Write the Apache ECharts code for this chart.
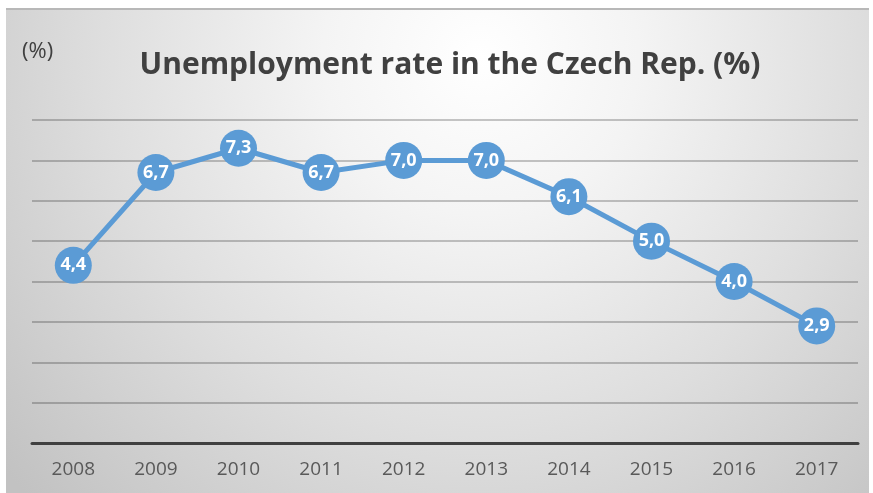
<!DOCTYPE html>
<html>
<head>
<meta charset="utf-8">
<script src="https://cdn.jsdelivr.net/npm/echarts@6/dist/echarts.min.js"></script>
<style>
html,body{margin:0;padding:0;background:#fff;}
#c{width:873px;height:493px;}
</style>
</head>
<body>
<div id="c"></div>
<script>
const years = ['2008','2009','2010','2011','2012','2013','2014','2015','2016','2017'];
const rates = [4.4, 6.7, 7.3, 6.7, 7.0, 7.0, 6.1, 5.0, 4.0, 2.9];
const titleText = 'Unemployment rate in the Czech Rep. (%)';
const unitText = '(%)';

const chart = echarts.init(document.getElementById('c'));
chart.setOption({
  backgroundColor: '#ffffff',
  animation: false,
  graphic: [
    {
      type: 'rect', z: -10, silent: true,
      shape: {x: 6, y: 8, width: 863, height: 485},
      style: {
        fill: new echarts.graphic.RadialGradient(0.55, 0.1, 1.3, [
          {offset: 0, color: '#ffffff'},
          {offset: 0.25, color: '#f4f4f4'},
          {offset: 0.6, color: '#dedede'},
          {offset: 1, color: '#c2c2c2'}
        ])
      }
    },
    {
      type: 'rect', z: -9, silent: true,
      shape: {x: 6, y: 8, width: 863, height: 2},
      style: {fill: '#b8b8b8'}
    }
  ],
  title: [
    {
      text: titleText,
      left: 445, textAlign: 'center', top: 45,
      textStyle: {color: '#404040', fontSize: 30, fontWeight: 'bold', fontFamily: '"Open Sans", sans-serif'}
    },
    {
      text: unitText,
      left: 22, top: 41, padding: 0,
      textStyle: {color: '#404040', fontSize: 22, fontWeight: 'normal', fontFamily: '"Open Sans", sans-serif'}
    }
  ],
  grid: {left: 32, right: 15, top: 120, bottom: 50, containLabel: false},
  xAxis: {
    type: 'category',
    data: years,
    boundaryGap: true,
    axisLine: {lineStyle: {color: '#404040', width: 3}},
    axisTick: {show: false},
    axisLabel: {color: '#595959', fontSize: 19, fontFamily: '"Open Sans", sans-serif', margin: 17}
  },
  yAxis: {
    type: 'value', min: 0, max: 8, interval: 1,
    axisLabel: {show: false},
    axisLine: {show: false},
    axisTick: {show: false},
    splitLine: {lineStyle: {color: 'rgba(0,0,0,0.22)', width: 2}}
  },
  series: [{
    type: 'line',
    data: rates,
    symbol: 'circle',
    symbolSize: 37,
    lineStyle: {color: '#5b9bd5', width: 5},
    itemStyle: {color: '#5b9bd5'},
    label: {
      show: true, position: 'inside',
      color: '#ffffff', fontWeight: 'bold', fontSize: 18,
      fontFamily: '"Open Sans", sans-serif',
      formatter: p => p.value.toFixed(1).replace('.', ',')
    }
  }]
});
</script>
</body>
</html>
